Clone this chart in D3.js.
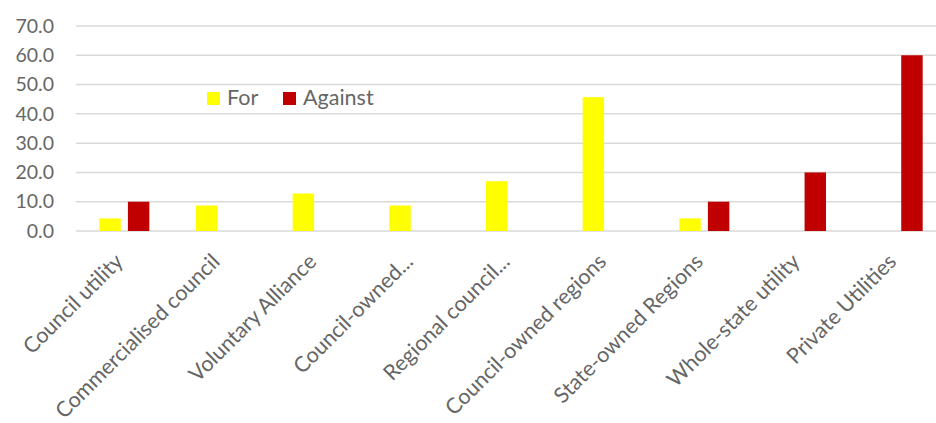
<!DOCTYPE html>
<html><head><meta charset="utf-8">
<script src="https://cdn.jsdelivr.net/npm/d3@7"></script>
<style>html,body{margin:0;padding:0;background:#fff;overflow:hidden}</style>
</head><body>
<svg id="c" width="936" height="423"></svg>
<script>
const categories = ["Council utility","Commercialised council","Voluntary Alliance","Council-owned...","Regional council...","Council-owned regions","State-owned Regions","Whole-state utility","Private Utilities"];
const forValues = [4.3, 8.7, 12.8, 8.7, 17.0, 45.7, 4.3, null, null];
const againstValues = [10.0, null, null, null, null, null, 10.0, 20.0, 60.0];
const yTicks = [0,10,20,30,40,50,60,70];
const seriesNames = ["For","Against"];
const colors = {"For":"#ffff00","Against":"#c00000"};

const svg = d3.select("#c");
const font = "Lato, 'Open Sans', sans-serif";
const textColor = "#666666";
const x = d3.scaleBand().domain(categories).range([76, 946]);
const y = d3.scaleLinear().domain([0,70]).range([231, 26]);
const sub = d3.scaleBand().domain(seriesNames).range([0, 50]).paddingInner(0.25);

// grid
svg.append("g").selectAll("line").data(yTicks).join("line")
  .attr("x1", 76).attr("x2", 946)
  .attr("y1", d=>y(d)).attr("y2", d=>y(d))
  .attr("stroke", "#d9d9d9").attr("stroke-width", 1.5);

// y axis labels
const yAxis = d3.axisLeft(y).tickValues(yTicks).tickFormat(d3.format(".1f")).tickSize(0).tickPadding(0);
const ya = svg.append("g").attr("transform","translate(54,0)").call(yAxis);
ya.select(".domain").remove();
ya.selectAll("text").attr("font-family", font).attr("font-size", 19.5).attr("fill",textColor);

// bars
const rows = categories.map((c,i)=>({c, vals:[{s:"For",v:forValues[i]},{s:"Against",v:againstValues[i]}]}));
const g = svg.append("g").selectAll("g").data(rows).join("g")
  .attr("transform", d=>`translate(${x(d.c)+x.bandwidth()/2-25},0)`);
g.selectAll("rect").data(d=>d.vals.filter(v=>v.v!=null)).join("rect")
  .attr("x", d=>sub(d.s)).attr("width", sub.bandwidth())
  .attr("y", d=>y(d.v)).attr("height", d=>y(0)-y(d.v))
  .attr("fill", d=>colors[d.s]);

// x labels
const xa = svg.append("g").attr("transform","translate(0,231)")
  .call(d3.axisBottom(x).tickSize(0).tickPadding(0));
xa.select(".domain").remove();
xa.selectAll("text")
  .attr("font-family", font).attr("font-size", 21.5).attr("fill",textColor)
  .attr("text-anchor","end").attr("dy", 0).attr("y", 0)
  .attr("transform","translate(0,32) rotate(-45)");

// legend
const leg = svg.append("g").attr("transform","translate(207,92)");
const li = leg.selectAll("g").data(seriesNames).join("g")
  .attr("transform",(d,i)=>`translate(${i*76},0)`);
li.append("rect").attr("width",13).attr("height",13).attr("fill",d=>colors[d]);
li.append("text").attr("x",20).attr("y",13).text(d=>d)
  .attr("font-family", font).attr("font-size", 21.5).attr("fill",textColor);
</script>
</body></html>
